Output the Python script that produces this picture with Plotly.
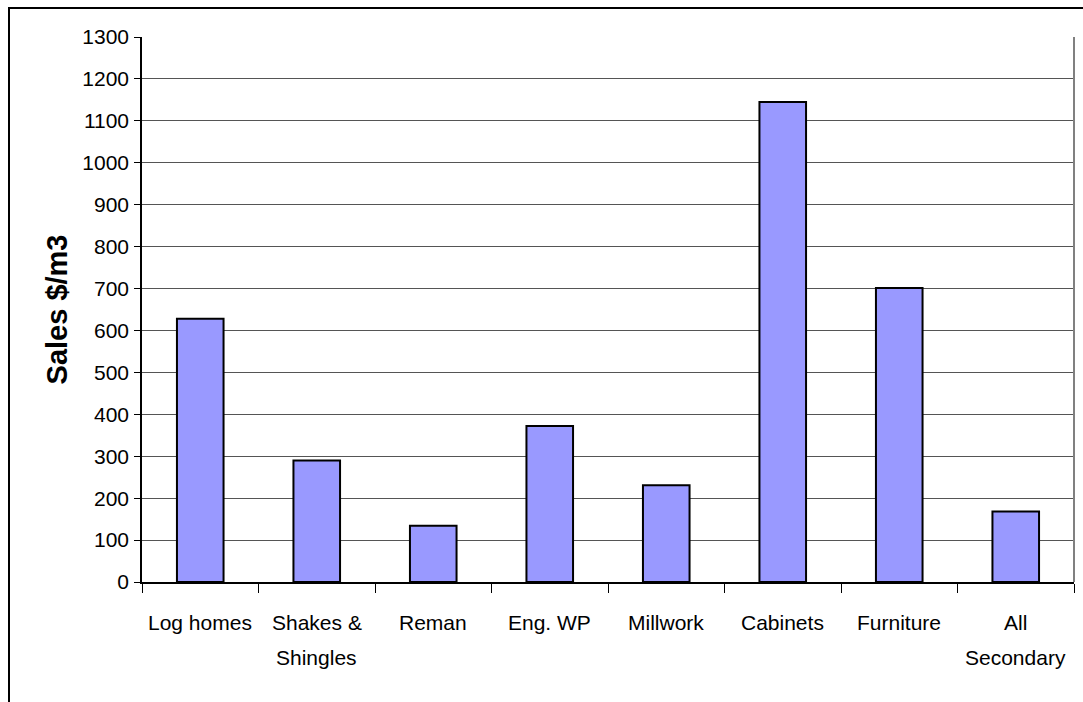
import plotly.graph_objects as go

# Sales per cubic metre by secondary wood product sector
categories = ["Log homes", "Shakes & Shingles", "Reman", "Eng. WP", "Millwork",
              "Cabinets", "Furniture", "All Secondary"]
label_lines = [["Log homes"], ["Shakes &", "Shingles"], ["Reman"], ["Eng. WP"],
               ["Millwork"], ["Cabinets"], ["Furniture"], ["All", "Secondary"]]
sales = [628, 290, 134, 372, 231, 1145, 701, 168]
y_ticks = list(range(0, 1301, 100))

FONT = "Liberation Sans, Arial, sans-serif"

fig = go.Figure(
    go.Bar(
        x=categories,
        y=sales,
        marker=dict(color="#9999FF", line=dict(color="black", width=2)),
        hoverinfo="x+y",
    )
)

# category names drawn under each bar, one annotation per text line
annotations = []
for cat, lines in zip(categories, label_lines):
    for i, line in enumerate(lines):
        annotations.append(dict(
            x=cat, xref="x", y=0, yref="paper",
            text=line, showarrow=False,
            yanchor="middle", xanchor="center",
            yshift=-40 - 35 * i,
            font=dict(family=FONT, size=21, color="black"),
        ))

fig.update_layout(
    width=1083, height=702,
    margin=dict(l=142, r=9, t=37, b=120),
    paper_bgcolor="white", plot_bgcolor="white",
    bargap=0.6,
    showlegend=False,
    font=dict(family=FONT, color="black"),
    annotations=annotations,
    shapes=[
        # plot area right border
        dict(type="line", xref="paper", yref="paper", x0=1, x1=1, y0=0, y1=1,
             line=dict(color="#808080", width=2)),
        # chart frame
        dict(type="rect", xref="paper", yref="paper",
             x0=-0.1427, x1=1.03, y0=-0.3, y1=1.0532,
             line=dict(color="black", width=2), layer="below"),
    ],
)

fig.update_xaxes(
    type="category",
    showticklabels=False,
    ticks="outside", tickson="boundaries", ticklen=9, tickcolor="black",
    showline=True, linecolor="black", linewidth=1.5,
    showgrid=False, zeroline=False,
)

fig.update_yaxes(
    range=[0, 1300],
    tickvals=y_ticks,
    ticks="outside", ticklen=6, tickcolor="black",
    tickfont=dict(family=FONT, size=21, color="black"),
    ticklabelstandoff=1,
    showline=True, linecolor="black", linewidth=1.5,
    showgrid=True, gridcolor="#555555", gridwidth=1,
    zeroline=False,
    title=dict(text="<b>Sales $/m3</b>", standoff=6,
               font=dict(family=FONT, size=29, color="black")),
)

fig.write_html("out.html")
